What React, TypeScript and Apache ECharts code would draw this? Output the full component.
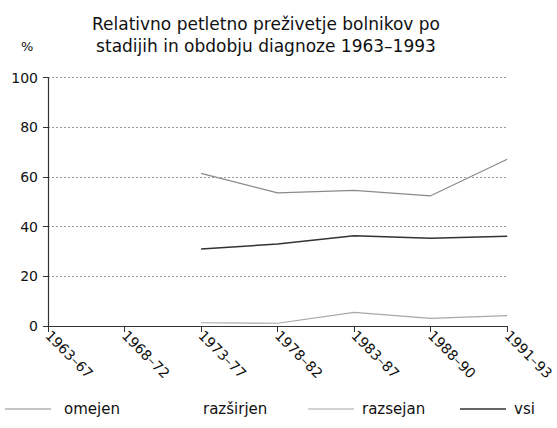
import React, { useEffect, useRef } from "react";
import * as echarts from "echarts";

const categories = ["1963–67", "1968–72", "1973–77", "1978–82", "1983–87", "1988–90", "1991–93"];
const omejen = [null, null, 61.4, 53.6, 54.6, 52.4, 67.1];
const razsirjen = [null, null, null, null, null, null, null];
const razsejan = [null, null, 1.3, 1.1, 5.5, 3.1, 4.2];
const vsi = [null, null, 31.0, 33.0, 36.3, 35.3, 36.1];
const yTicks = { min: 0, max: 100, interval: 20 };

const seriesNames = ["omejen", "razširjen", "razsejan", "vsi"];
const seriesColors = ["#8a8a8a", "rgba(0,0,0,0)", "#a8a8a8", "#333333"];
const seriesWidths = [1.2, 1, 1.2, 1.5];

const FONT = "DejaVu Sans";

export default function App() {
  const ref = useRef<HTMLDivElement>(null);
  useEffect(() => {
    const chart = echarts.init(ref.current!, null, { renderer: "svg" });
    const legendPos = [
      { lx: 5, tx: 64 },
      { lx: 150, tx: 203 },
      { lx: 308, tx: 362 },
      { lx: 460, tx: 514 },
    ];
    const legendY = 409;
    const legendGraphics: any[] = [];
    seriesNames.forEach((name, i) => {
      legendGraphics.push({
        type: "line",
        shape: { x1: legendPos[i].lx, y1: legendY, x2: legendPos[i].lx + 46, y2: legendY },
        style: { stroke: seriesColors[i], lineWidth: seriesWidths[i] },
      });
      legendGraphics.push({
        type: "text",
        x: legendPos[i].tx,
        y: legendY,
        style: { text: name, font: `15px '${FONT}'`, fill: "#111", verticalAlign: "middle" },
      });
    });
    chart.setOption({
      animation: false,
      backgroundColor: "#fff",
      title: {
        text: "Relativno petletno preživetje bolnikov po\nstadijih in obdobju diagnoze 1963–1993",
        left: 261,
        textAlign: "center",
        top: 8,
        textStyle: { fontFamily: FONT, fontSize: 17, fontWeight: "normal", color: "#111", lineHeight: 22 },
      },
      graphic: [
        { type: "text", x: 21, y: 40, style: { text: "%", font: `13px '${FONT}'`, fill: "#111" } },
        ...legendGraphics,
      ],
      grid: { left: 48, right: 45, top: 77.5, bottom: 102, containLabel: false },
      xAxis: {
        type: "category",
        data: categories,
        boundaryGap: false,
        axisLine: { lineStyle: { color: "#333", width: 1.2 } },
        axisTick: { show: true, length: 6, lineStyle: { color: "#333" } },
        axisLabel: { rotate: -45, fontFamily: FONT, fontSize: 14, color: "#111", margin: 7 },
        splitLine: { show: false },
      },
      yAxis: {
        type: "value",
        min: yTicks.min,
        max: yTicks.max,
        interval: yTicks.interval,
        axisLine: { show: true, lineStyle: { color: "#333", width: 1.2 } },
        axisTick: { show: true, length: 5, lineStyle: { color: "#333" } },
        axisLabel: { fontFamily: FONT, fontSize: 14, color: "#111", margin: 10 },
        splitLine: { show: true, lineStyle: { color: "#999", width: 1, type: [2, 2] } },
      },
      series: [omejen, razsirjen, razsejan, vsi].map((d, i) => ({
        name: seriesNames[i],
        type: "line",
        data: d,
        symbol: "none",
        lineStyle: { color: seriesColors[i], width: seriesWidths[i] },
        itemStyle: { color: seriesColors[i] },
      })),
    });
    return () => chart.dispose();
  }, []);
  return <div ref={ref} style={{ width: 557, height: 428, position: "absolute", left: 0, top: 0 }} />;
}
